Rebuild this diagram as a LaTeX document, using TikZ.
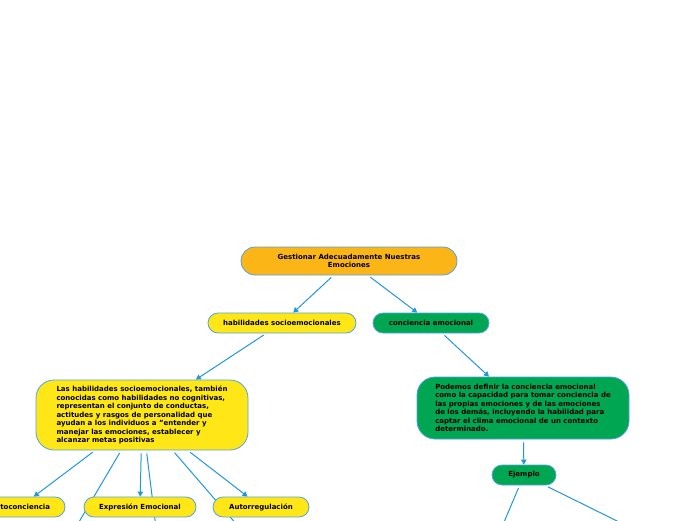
\documentclass[tikz,border=0pt]{standalone}
\usepackage{fontspec}
\setmainfont{DejaVu Sans}
\usetikzlibrary{arrows.meta,backgrounds}
\definecolor{rootorange}{RGB}{251,181,22}
\definecolor{hsyellow}{RGB}{255,230,22}
\definecolor{cegreen}{RGB}{0,166,81}
\definecolor{rimblue}{RGB}{80,165,222}
\definecolor{linkblue}{RGB}{33,150,223}
\begin{document}
\begin{tikzpicture}[x=1pt,y=-1pt,
    box/.style={draw=rimblue,line width=0.8pt,font=\fontsize{7}{8.5}\selectfont\bfseries,
      inner sep=2pt,minimum height=20pt,rounded corners=10pt},
    bigbox/.style={box,align=left,rounded corners=18pt},
    link/.style={draw=linkblue,line width=1pt,shorten <=3pt,-{Triangle[length=5pt,width=5.5pt]}}]
    \useasboundingbox (0,0) rectangle (696,520);
    \clip (0,0) rectangle (696,520);

    \node[box,fill=rootorange,align=center,minimum width=216pt,minimum height=28pt,rounded corners=14pt] (G) at (349,261){Gestionar Adecuadamente Nuestras\\Emociones};
    \node[box,fill=hsyellow,minimum width=148pt] (H) at (282,323){habilidades socioemocionales};
    \node[box,fill=cegreen,minimum width=116pt] (C) at (431,323){conciencia emocional};
    \node[bigbox,fill=hsyellow,minimum width=212pt,minimum height=70pt] (Htext) at (142,415){Las habilidades socioemocionales, también\\conocidas como habilidades no cognitivas,\\representan el conjunto de conductas,\\actitudes y rasgos de personalidad que\\ayudan a los individuos a "entender y\\manejar las emociones, establecer y\\alcanzar metas positivas};
    \node[bigbox,fill=cegreen,minimum width=212pt,minimum height=62pt] (Ctext) at (523,408){Podemos definir la conciencia emocional\\como la capacidad para tomar conciencia de\\las propias emociones y de las emociones\\de los demás, incluyendo la habilidad para\\captar el clima emocional de un contexto\\determinado.};
    \node[box,fill=cegreen,minimum width=64pt] (E) at (524,475){Ejemplo};
    \node[box,fill=hsyellow,minimum width=90pt] (A) at (20,507){Autoconciencia};
    \node[box,fill=hsyellow,minimum width=112pt] (Ex) at (140,507){Expresión Emocional};
    \node[box,fill=hsyellow,minimum width=96pt] (Ar) at (261,507){Autorregulación};

    \coordinate (Hd1) at (33,600);
    \coordinate (Hd2) at (165,600);
    \coordinate (Hd3) at (302,600);
    \coordinate (Ed1) at (471,600);
    \coordinate (Ed2) at (777,600);

    \begin{scope}[on background layer]
    \draw (G) edge[link] (H);
    \draw (G) edge[link] (C);
    \draw (H) edge[link] (Htext);
    \draw (C) edge[link] (Ctext);
    \draw (Ctext) edge[link] (E);
    \draw (Htext) edge[link] (A);
    \draw (Htext) edge[link] (Ex);
    \draw (Htext) edge[link] (Ar);
    \draw (Htext) edge[link] (Hd1);
    \draw (Htext) edge[link] (Hd2);
    \draw (Htext) edge[link] (Hd3);
    \draw (E) edge[link] (Ed1);
    \draw (E) edge[link] (Ed2);
    \end{scope}
  \end{tikzpicture}
\end{document}
